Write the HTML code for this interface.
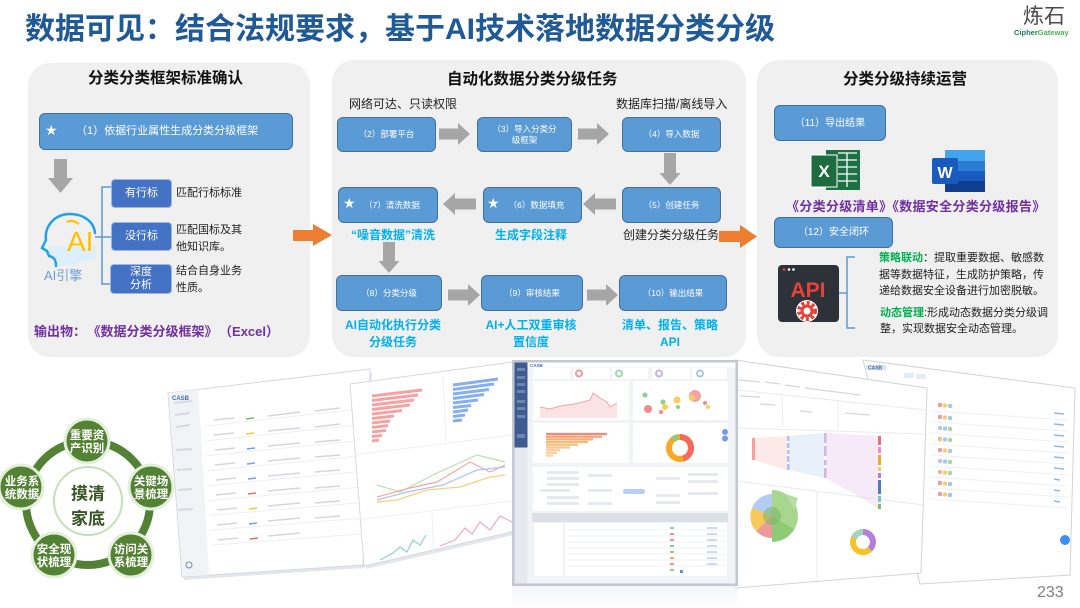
<!DOCTYPE html>
<html><head><meta charset="utf-8">
<style>
*{margin:0;padding:0;box-sizing:border-box}
html,body{width:1080px;height:608px;overflow:hidden;background:#fff}
body{position:relative;font-family:"Liberation Sans","Noto Sans CJK SC",sans-serif;color:#222}
.a{position:absolute;white-space:nowrap}
.pn{position:absolute;background:#F0F0F0;border-radius:22px}
.bx{position:absolute;background:#5B9BD5;border:1.5px solid #41719C;border-radius:6px;color:#fff;font-size:8.5px;display:flex;align-items:center;justify-content:center;text-align:center;line-height:11px;white-space:nowrap}
.db{position:absolute;background:#4472C4;border:1px solid #9DB5E0;border-radius:4px;color:#fff;font-size:11px;display:flex;align-items:center;justify-content:center;text-align:center;line-height:13px}
.st{position:absolute;color:#fff;font-size:14px;line-height:18px;font-family:"DejaVu Sans",sans-serif}
.cy{position:absolute;color:#00B0F0;font-weight:bold;font-size:12px;line-height:17px;text-align:center;white-space:nowrap}
.pt{position:absolute;font-weight:bold;font-size:15.5px;line-height:18px;color:#111;white-space:nowrap}
.tx{position:absolute;font-size:11px;line-height:17px;color:#222;white-space:nowrap}
svg{position:absolute;left:0;top:0}
</style></head><body>

<div class="a" style="left:25px;top:12px;font-size:30px;font-weight:bold;color:#1F5A96;line-height:36px">数据可见：结合法规要求，基于AI技术落地数据分类分级</div>

<div class="a" style="left:1023px;top:6px;font-size:21px;line-height:22px;color:#4a4a4a">炼石</div>
<div class="a" style="left:1014px;top:28px;font-size:7.5px;line-height:9px;font-weight:bold;color:#1B7A5A">Cipher<span style="color:#4CAF50">Gateway</span></div>

<div class="pn" style="left:28px;top:63px;width:282px;height:294px"></div>
<div class="pn" style="left:332px;top:60px;width:414px;height:297px"></div>
<div class="pn" style="left:757px;top:60px;width:301px;height:297px"></div>

<svg width="1080" height="608" viewBox="0 0 1080 608">
 <defs>
  <linearGradient id="fd" x1="0" y1="0" x2="0" y2="1"><stop offset="0" stop-color="#EEF0F3"/><stop offset="1" stop-color="#fff"/></linearGradient>
 </defs>
 <g fill="#A6A6A6">
  <polygon points="54,159 67,159 67,178 73,178 60.5,193 48,178 54,178"/>
  <polygon points="439,128.5 458,128.5 458,123 470,134 458,145 458,139.5 439,139.5"/>
  <polygon points="578,128.5 597,128.5 597,123 609,134 597,145 597,139.5 578,139.5"/>
  <polygon points="616,198.5 595,198.5 595,193 583,204 595,215 595,209.5 616,209.5"/>
  <polygon points="476,198.5 455,198.5 455,193 443,204 455,215 455,209.5 476,209.5"/>
  <polygon points="448,289.5 468,289.5 468,284 480,295 468,306 468,300.5 448,300.5"/>
  <polygon points="587,289.5 606,289.5 606,284 618,295 606,306 606,300.5 587,300.5"/>
  <polygon points="664,153 676,153 676,173 680.5,173 670,185 659.5,173 664,173"/>
  <polygon points="383,242 395,242 395,261 399.5,261 389,273 378.5,261 383,261"/>
 </g>
 <g fill="#ED7D31">
  <polygon points="293,230 313,230 313,224 332,235 313,246 313,241 293,241"/>
  <polygon points="719,231 740,231 740,225 757,236.5 740,248 740,242 719,242"/>
 </g>
 <g fill="none" stroke="#5B9BD5" stroke-width="1.5">
  <path d="M111,187 L102,187 L102,284 L110,284"/>
  <path d="M95,237 L111,237"/>
  <path d="M855,257 L847,257 L847,328 L855,328"/>
  <path d="M836,293 L847,293"/>
 </g>
 <path d="M48,247 L97,247 L95,258 L72,265 L56,266 L55,258 L49,256 Z" fill="#DDEFFB"/>
 <path d="M56,266 C56,260 54,257 49,256 L47,251 L42,248 L46,240 C44,226 55,214 70,214 C84,214 94,222 95,233" fill="none" stroke="#22A2E6" stroke-width="2.5" stroke-linecap="round"/>
 <path d="M67,222 Q72,219 79,224" fill="none" stroke="#FFC000" stroke-width="2.2"/>
 <text x="67" y="251" font-size="28" fill="#FFC000" font-family="Liberation Sans,sans-serif">AI</text>

 <rect x="826" y="150" width="34" height="40" fill="#1E7145"/>
 <g stroke="#fff" stroke-width="1.3"><line x1="838" y1="153" x2="857" y2="153"/><line x1="838" y1="160" x2="857" y2="160"/><line x1="838" y1="167" x2="857" y2="167"/><line x1="838" y1="174" x2="857" y2="174"/><line x1="838" y1="181" x2="857" y2="181"/><line x1="847" y1="153" x2="847" y2="187"/></g>
 <rect x="811" y="155" width="26" height="32" fill="#1D6B3F" stroke="#fff" stroke-width="1"/>
 <text x="824" y="177" font-size="17" font-weight="bold" fill="#fff" text-anchor="middle" font-family="Liberation Sans,sans-serif">X</text>
 <rect x="945" y="150" width="40" height="11" fill="#41A5EE"/>
 <rect x="945" y="161" width="40" height="10" fill="#2B7CD3"/>
 <rect x="945" y="171" width="40" height="10" fill="#185ABD"/>
 <rect x="945" y="181" width="40" height="11" fill="#103F91"/>
 <rect x="932" y="158" width="26" height="26" rx="2" fill="#185ABD"/>
 <text x="945" y="178" font-size="16" font-weight="bold" fill="#fff" text-anchor="middle" font-family="Liberation Sans,sans-serif">W</text>
 <rect x="778" y="265" width="61" height="57" rx="4" fill="#2D3239"/>
 <circle cx="784" cy="269.5" r="1.3" fill="#E8403A"/><circle cx="789" cy="269.5" r="1.3" fill="#fff"/><circle cx="793.5" cy="269.5" r="1.3" fill="#fff"/>
 <text x="808" y="297" font-size="21" font-weight="bold" fill="#E8403A" text-anchor="middle" font-family="Liberation Sans,sans-serif">API</text>
 <circle cx="807" cy="311" r="11" fill="#fff"/>
 <circle cx="807" cy="311" r="8" fill="none" stroke="#E8403A" stroke-width="4" stroke-dasharray="3 2.3"/>
 <circle cx="807" cy="311" r="6.5" fill="#E8403A"/>
 <circle cx="807" cy="311" r="3.5" fill="#fff"/>

 <circle cx="88" cy="503" r="62" fill="none" stroke="#548235" stroke-width="8"/>
 <circle cx="88" cy="501" r="34" fill="#fff" stroke="#C5E0B4" stroke-width="2"/>
 <g font-family="Liberation Sans,Noto Sans CJK SC,sans-serif" font-weight="bold" text-anchor="middle">
  <text x="88" y="499.5" font-size="17" fill="#375623">摸清</text>
  <text x="88" y="524.5" font-size="17" fill="#375623">家底</text>
 </g>
 <g fill="#E2EFD9"><circle cx="87" cy="441" r="23.5"/><circle cx="21" cy="487" r="23.5"/><circle cx="151" cy="487" r="23.5"/><circle cx="54" cy="555" r="23.5"/><circle cx="131" cy="555" r="23.5"/></g>
 <g fill="#548235"><circle cx="87" cy="441" r="20.5"/><circle cx="21" cy="487" r="20.5"/><circle cx="151" cy="487" r="20.5"/><circle cx="54" cy="555" r="20.5"/><circle cx="131" cy="555" r="20.5"/></g>
 <g font-family="Liberation Sans,Noto Sans CJK SC,sans-serif" font-weight="bold" font-size="11.5" fill="#fff" text-anchor="middle">
  <text x="87" y="439">重要资</text><text x="87" y="452">产识别</text>
  <text x="22" y="485">业务系</text><text x="22" y="498">统数据</text>
  <text x="151" y="485">关键场</text><text x="151" y="498">景梳理</text>
  <text x="54" y="553">安全现</text><text x="54" y="566">状梳理</text>
  <text x="131" y="553">访问关</text><text x="131" y="566">系梳理</text>
 </g>

 <polygon points="170,396 372,372 365,568 184,580" fill="#E3E6EA"/>
 <polygon points="168,393 370,369 363,565 182,577" fill="#fff" stroke="#D5D8DD"/>
 <polygon points="168.5,393 198.3,389.4 209.2,575.2 182.5,576.5" fill="#F1F3F7"/>
 <g stroke="#D6DBE3" stroke-width="2"><line x1="174" y1="403" x2="192" y2="401"/><line x1="175" y1="415" x2="190" y2="413"/><line x1="176" y1="427" x2="190" y2="425"/><line x1="176" y1="450" x2="192" y2="449"/><line x1="177" y1="470" x2="192" y2="469"/><line x1="178" y1="490" x2="192" y2="489"/><line x1="178" y1="510" x2="193" y2="509"/></g>
 <text x="172" y="400" font-size="6" fill="#3E6DB5" font-weight="bold" font-family="Liberation Sans,sans-serif">CASB</text>
 <g stroke="#EDEFF2" stroke-width="1">
  <line x1="204.4" y1="426.1" x2="362.7" y2="408.8"/><line x1="205.2" y1="441" x2="362.2" y2="424.5"/>
  <line x1="206.1" y1="455.9" x2="361.7" y2="440.2"/><line x1="206.9" y1="470.8" x2="361.2" y2="455.8"/>
  <line x1="207.8" y1="485.7" x2="360.7" y2="471.5"/><line x1="208.6" y1="500.6" x2="360.2" y2="487.1"/>
  <line x1="209.4" y1="515.4" x2="359.6" y2="502.8"/><line x1="210.3" y1="530.3" x2="359.1" y2="518.4"/>
  <line x1="211.1" y1="545.2" x2="358.6" y2="534.1"/>
 </g>
 <g stroke-width="1.6">
  <line x1="246" y1="419" x2="254" y2="418" stroke="#6CC070"/>
  <line x1="246" y1="434" x2="254" y2="433" stroke="#F2C744"/>
  <line x1="247" y1="449" x2="255" y2="448" stroke="#6FA3EA"/>
  <line x1="247" y1="464" x2="255" y2="463" stroke="#6FA3EA"/>
  <line x1="248" y1="479" x2="256" y2="478" stroke="#6FA3EA"/>
  <line x1="248" y1="494" x2="256" y2="493" stroke="#EB6A6A"/>
  <line x1="249" y1="509" x2="257" y2="508" stroke="#F2C744"/>
  <line x1="249" y1="524" x2="257" y2="523" stroke="#6FA3EA"/>
  <line x1="250" y1="539" x2="258" y2="538" stroke="#EB6A6A"/>
 </g>
 <g stroke="#D3D7DD" stroke-width="1.5">
  <line x1="214" y1="420" x2="234" y2="418"/><line x1="268" y1="416" x2="300" y2="412"/><line x1="315" y1="411" x2="340" y2="408"/>
  <line x1="214" y1="435" x2="234" y2="433"/><line x1="268" y1="431" x2="300" y2="428"/><line x1="315" y1="427" x2="340" y2="424"/>
  <line x1="215" y1="450" x2="235" y2="448"/><line x1="268" y1="446" x2="300" y2="443"/><line x1="315" y1="442" x2="340" y2="440"/>
  <line x1="215" y1="465" x2="235" y2="463"/><line x1="268" y1="461" x2="300" y2="458"/><line x1="315" y1="457" x2="340" y2="455"/>
  <line x1="216" y1="480" x2="236" y2="478"/><line x1="268" y1="476" x2="300" y2="473"/><line x1="315" y1="472" x2="340" y2="470"/>
  <line x1="216" y1="495" x2="236" y2="493"/><line x1="268" y1="491" x2="300" y2="488"/><line x1="315" y1="488" x2="340" y2="486"/>
  <line x1="217" y1="510" x2="237" y2="508"/><line x1="268" y1="506" x2="300" y2="503"/><line x1="315" y1="503" x2="340" y2="501"/>
  <line x1="217" y1="525" x2="237" y2="523"/><line x1="268" y1="521" x2="300" y2="518"/><line x1="315" y1="518" x2="340" y2="516"/>
  <line x1="218" y1="540" x2="238" y2="538"/><line x1="268" y1="536" x2="300" y2="533"/>
 </g>
 <circle cx="189" cy="565" r="3" fill="none" stroke="#6F8DB8"/>

 <polygon points="352,387 522,364 522,533 366,569" fill="#E3E6EA"/>
 <polygon points="350,384 520,361 520,530 364,566" fill="#fff" stroke="#D5D8DD"/>
 <g stroke="#EEF0F3" stroke-width="1"><line x1="443" y1="376" x2="446" y2="442"/><line x1="353" y1="455" x2="520" y2="434"/><line x1="356" y1="520" x2="520" y2="500"/><line x1="432" y1="512" x2="434" y2="560"/></g>
 <g stroke="#F4A3A3" stroke-width="3">
  <line x1="372" y1="396" x2="422" y2="390"/><line x1="372" y1="400.5" x2="418" y2="395"/><line x1="372" y1="405" x2="414" y2="400"/>
  <line x1="372" y1="409.5" x2="410" y2="405"/><line x1="372" y1="414" x2="402" y2="410.5"/><line x1="372" y1="418.5" x2="394" y2="416"/>
  <line x1="372" y1="423" x2="390" y2="421"/><line x1="372" y1="427.5" x2="388" y2="425.5"/><line x1="372" y1="432" x2="386" y2="430.5"/>
  <line x1="372" y1="436.5" x2="382" y2="435.5"/><line x1="372" y1="441" x2="379" y2="440"/>
 </g>
 <g stroke="#86AEF0" stroke-width="3">
  <line x1="453" y1="385" x2="498" y2="379"/><line x1="453" y1="389.5" x2="494" y2="384"/><line x1="453" y1="394" x2="489" y2="389.5"/>
  <line x1="453" y1="398.5" x2="484" y2="394.5"/><line x1="453" y1="403" x2="478" y2="400"/><line x1="453" y1="407.5" x2="471" y2="405.5"/>
  <line x1="453" y1="412" x2="468" y2="410"/><line x1="453" y1="416.5" x2="465" y2="415"/><line x1="453" y1="421" x2="462" y2="420"/>
 </g>
 <g fill="none" stroke-width="1.2">
  <polyline points="377,485 400,492 437,473 477,455 505,462" stroke="#B8E0A8"/>
  <polyline points="377,497 410,488 437,482 470,462 490,472 505,465" stroke="#F4A7A7"/>
  <polyline points="377,500 407,492 443,485 477,470 505,467" stroke="#A8C4F2"/>
  <polyline points="377,502 397,500 427,490 460,487 490,477 505,475" stroke="#F7CF7E"/>
  <polyline points="380,560 393,553 400,547 407,552 413,540 420,545 426,535" stroke="#8CCFE3"/>
  <polyline points="440,546 455,540 465,528 472,534 480,522 490,530 500,516 512,522" stroke="#F4A7BE"/>
 </g>

 <polygon points="863,360 1075,388 1070,575 920,584" fill="#fff" stroke="#D0D3D8"/>
 <rect x="866" y="365" width="20" height="5" fill="#DDE5F2"/>
 <text x="868" y="369.5" font-size="5" fill="#3E6DB5" font-weight="bold" font-family="Liberation Sans,sans-serif">CASB</text>
 <g fill="#E4EBF6"><rect x="904" y="373" width="10" height="5"/><rect x="916" y="374" width="10" height="5"/></g>
 <g stroke="#EEF0F3" stroke-width="1">
  <line x1="930" y1="411" x2="1068" y2="420"/><line x1="930" y1="422" x2="1068" y2="431"/><line x1="930" y1="433" x2="1068" y2="442"/>
  <line x1="930" y1="444" x2="1068" y2="453"/><line x1="930" y1="455" x2="1068" y2="464"/><line x1="930" y1="466" x2="1068" y2="475"/>
  <line x1="930" y1="477" x2="1068" y2="486"/><line x1="930" y1="488" x2="1068" y2="497"/><line x1="930" y1="499" x2="1068" y2="508"/>
 </g>
 <g>
  <rect x="938" y="403" width="4" height="4" rx="1" fill="#F29A9A"/><rect x="943" y="403.5" width="4" height="4" rx="1" fill="#F7C977"/><rect x="948" y="404" width="4" height="4" rx="1" fill="#9CC8F2"/>
  <rect x="938" y="415" width="4" height="4" rx="1" fill="#F29A9A"/><rect x="943" y="415.5" width="4" height="4" rx="1" fill="#F7C977"/><rect x="948" y="416" width="4" height="4" rx="1" fill="#9CC8F2"/>
  <rect x="938" y="426" width="4" height="4" rx="1" fill="#B9C3F2"/><rect x="943" y="426.5" width="4" height="4" rx="1" fill="#9CC8F2"/><rect x="948" y="427" width="4" height="4" rx="1" fill="#A6DA9A"/>
  <rect x="938" y="437" width="4" height="4" rx="1" fill="#F7B58A"/><rect x="943" y="437.5" width="4" height="4" rx="1" fill="#9CC8F2"/><rect x="948" y="438" width="4" height="4" rx="1" fill="#A6DA9A"/>
  <rect x="938" y="448" width="4" height="4" rx="1" fill="#F29A9A"/><rect x="943" y="448.5" width="4" height="4" rx="1" fill="#F7C977"/><rect x="948" y="449" width="4" height="4" rx="1" fill="#9CC8F2"/>
  <rect x="938" y="459" width="4" height="4" rx="1" fill="#B9C3F2"/><rect x="943" y="459.5" width="4" height="4" rx="1" fill="#9CC8F2"/><rect x="948" y="460" width="4" height="4" rx="1" fill="#A6DA9A"/>
  <rect x="938" y="470" width="4" height="4" rx="1" fill="#F7B58A"/><rect x="943" y="470.5" width="4" height="4" rx="1" fill="#F7C977"/><rect x="948" y="471" width="4" height="4" rx="1" fill="#A6DA9A"/>
  <rect x="938" y="481" width="4" height="4" rx="1" fill="#F29A9A"/><rect x="943" y="481.5" width="4" height="4" rx="1" fill="#F7C977"/><rect x="948" y="482" width="4" height="4" rx="1" fill="#9CC8F2"/>
  <rect x="938" y="492" width="4" height="4" rx="1" fill="#F29A9A"/><rect x="943" y="492.5" width="4" height="4" rx="1" fill="#F7C977"/><rect x="948" y="493" width="4" height="4" rx="1" fill="#9CC8F2"/>
 </g>
 <g stroke="#8DB8F0" stroke-width="1.5">
  <line x1="1054" y1="413" x2="1064" y2="414"/><line x1="1054" y1="424" x2="1064" y2="425"/><line x1="1054" y1="435" x2="1064" y2="436"/>
  <line x1="1054" y1="446" x2="1064" y2="447"/><line x1="1054" y1="457" x2="1064" y2="458"/><line x1="1054" y1="468" x2="1064" y2="469"/>
  <line x1="1054" y1="479" x2="1060" y2="480"/><line x1="1054" y1="490" x2="1060" y2="491"/><line x1="1054" y1="501" x2="1060" y2="502"/>
 </g>
 <circle cx="1065" cy="540" r="5" fill="#3D8EF0"/>

 <polygon points="735,360 927,388 921,573 735,588" fill="#fff" stroke="#D0D3D8"/>
 <g stroke="#E8EAEE" stroke-width="1"><line x1="737" y1="390" x2="925" y2="410"/><line x1="737" y1="428" x2="925" y2="434"/><line x1="737" y1="481" x2="924" y2="505"/><line x1="817" y1="492" x2="817" y2="578"/><line x1="782" y1="395" x2="783" y2="427"/><line x1="838" y1="401" x2="838" y2="429"/></g>
 <g stroke="#D3D7DD" stroke-width="1.3"><line x1="738" y1="380" x2="760" y2="382"/><line x1="765" y1="382" x2="780" y2="384"/><line x1="785" y1="385" x2="800" y2="387"/><line x1="805" y1="388" x2="860" y2="395"/><line x1="740" y1="396" x2="760" y2="397"/><line x1="760" y1="404" x2="775" y2="405"/><line x1="800" y1="411" x2="812" y2="412"/><line x1="845" y1="413" x2="870" y2="415"/></g>
 <g opacity="0.5">
  <polygon points="755,438 787,436 787,470 755,460" fill="#FBD4D2"/>
  <polygon points="789,436 824,433 824,478 789,470" fill="#D3E2F7"/>
  <polygon points="826,433 878,436 878,508 826,478" fill="#EED7F2"/>
 </g>
 <rect x="752" y="438" width="3" height="22" fill="#F4A09A"/>
 <g fill="#A9C4EE"><rect x="787" y="436" width="2.5" height="5"/><rect x="787" y="443" width="2.5" height="5"/><rect x="787" y="450" width="2.5" height="4"/><rect x="787" y="456" width="2.5" height="6"/><rect x="787" y="464" width="2.5" height="6"/></g>
 <g fill="#D7B3E8"><rect x="824" y="433" width="2.5" height="10"/><rect x="824" y="446" width="2.5" height="10"/><rect x="824" y="460" width="2.5" height="5"/><rect x="824" y="468" width="2.5" height="10"/></g>
 <rect x="878" y="436" width="3" height="9" fill="#F26F6F"/><rect x="878" y="447" width="3" height="6" fill="#F58AC0"/>
 <rect x="878" y="455" width="3" height="10" fill="#F5A623"/><rect x="878" y="467" width="3" height="4" fill="#F7D046"/>
 <rect x="878" y="473" width="3" height="5" fill="#B07FE0"/><rect x="878" y="480" width="3" height="14" fill="#4A7BD0"/>
 <rect x="878" y="496" width="3" height="6" fill="#7FC6B8"/><rect x="878" y="504" width="3" height="5" fill="#7BC065"/>
 <g transform="translate(772,516)">
  <path d="M0,0 L0,-26 A26,26 0 0 1 22.5,13 Z" fill="#A8D68E"/>
  <path d="M0,0 L22.5,13 A26,26 0 0 1 0,26 Z" fill="#8FCB77"/>
  <path d="M0,0 L0,22 A22,22 0 0 1 -16,15 Z" fill="#EC9A9A"/>
  <path d="M0,0 L-16,15 A22,22 0 0 1 -20,-8 Z" fill="#F7C85A"/>
  <path d="M0,0 L-20,-8 A22,22 0 0 1 0,-22 Z" fill="#B3CCF2"/>
  <circle r="9" fill="#7DB865" opacity="0.6"/>
  <path d="M14,-22 L26,-18 L22,-6 Z" fill="#B9DEA5"/>
 </g>
 <g transform="translate(863,542)" fill="none" stroke-width="6">
  <circle r="10" stroke="#F5C325"/>
  <path d="M0,-10 A10,10 0 0 1 7,7" stroke="#B07FE0"/>
  <path d="M-9,-4 A10,10 0 0 1 0,-10" stroke="#9FD4C8"/>
 </g>

 <rect x="512" y="360" width="226" height="226" fill="#C3C8D0"/>
 <rect x="514.5" y="362.5" width="221" height="221" fill="#F1F3F6"/>
 <rect x="514.5" y="447.5" width="13" height="136" fill="#E6E9EE"/>
 <rect x="514.5" y="362.5" width="13" height="85" fill="#3E5C8F"/>
 <g fill="#6C86B2"><rect x="517" y="368" width="8" height="3"/><rect x="517" y="376" width="8" height="3"/><rect x="517" y="383" width="8" height="3"/><rect x="517" y="390" width="8" height="3"/><rect x="517" y="400" width="8" height="3"/><rect x="517" y="407" width="8" height="3"/><rect x="517" y="415" width="8" height="3"/><rect x="517" y="434" width="8" height="4"/></g>
 <rect x="527.5" y="362.5" width="208" height="5" fill="#fff"/>
 <text x="530" y="367" font-size="4.5" fill="#3E6DB5" font-weight="bold" font-family="Liberation Sans,sans-serif">CASB</text>
 <g fill="#fff">
  <rect x="533" y="368" width="37" height="11"/><rect x="573" y="368" width="37" height="11"/><rect x="612" y="368" width="36" height="11"/><rect x="652" y="368" width="38" height="11"/><rect x="692" y="368" width="35" height="11"/>
  <rect x="533" y="381" width="96" height="39"/><rect x="633" y="381" width="95" height="39"/>
  <rect x="533" y="423" width="96" height="40"/><rect x="633" y="423" width="95" height="40"/>
  <rect x="533" y="467" width="195" height="44"/>
 </g>
 <circle cx="579" cy="373.5" r="3" fill="none" stroke="#F29A9A" stroke-width="2"/>
 <circle cx="619" cy="373.5" r="3" fill="none" stroke="#9FD8AE" stroke-width="2"/>
 <circle cx="659" cy="373.5" r="3" fill="none" stroke="#C2B2EE" stroke-width="2"/>
 <circle cx="700" cy="373.5" r="3" fill="none" stroke="#A8C8F0" stroke-width="2"/>
 <polygon points="540,407 550,409 560,406 575,404 590,400 593,393 600,398 607,402 610,407 617,403 617,418 540,418" fill="#FCE3E3"/>
 <polyline points="540,407 550,409 560,406 575,404 590,400 593,393 600,398 607,402 610,407 617,403" fill="none" stroke="#F4A3A3" stroke-width="1"/>
 <g>
  <circle cx="695" cy="396" r="6" fill="#F4A3A3"/><circle cx="648" cy="409" r="4" fill="#F08C8C"/><circle cx="677" cy="400" r="3.5" fill="#F7CE5C"/>
  <circle cx="692" cy="398" r="3" fill="#F7CE5C"/><circle cx="645" cy="395" r="2.5" fill="#8DD08A"/><circle cx="663" cy="402" r="2.5" fill="#8DD08A"/>
  <circle cx="665" cy="407" r="3" fill="#F7CE5C"/><circle cx="678" cy="407" r="2" fill="#8DD08A"/><circle cx="705" cy="403" r="2" fill="#F08C8C"/>
  <circle cx="708" cy="407" r="2" fill="#F7CE5C"/><circle cx="661" cy="412" r="2" fill="#F08C8C"/>
 </g>
 <g stroke-width="2.2">
  <line x1="546" y1="434" x2="607" y2="434" stroke="#F28A7E"/><line x1="546" y1="436.7" x2="602" y2="436.7" stroke="#F7A06F"/>
  <line x1="546" y1="439.4" x2="593" y2="439.4" stroke="#F8B070"/><line x1="546" y1="442.1" x2="588" y2="442.1" stroke="#F9B97A"/>
  <line x1="546" y1="444.8" x2="578" y2="444.8" stroke="#F9C083"/><line x1="546" y1="447.5" x2="570" y2="447.5" stroke="#FAC68C"/>
  <line x1="546" y1="450.2" x2="560" y2="450.2" stroke="#FBCC95"/><line x1="546" y1="452.9" x2="557" y2="452.9" stroke="#FBD09C"/>
  <line x1="546" y1="455.6" x2="553" y2="455.6" stroke="#FBD3A0"/>
 </g>
 <g transform="translate(680,448)" fill="none" stroke-width="6">
  <circle r="11" stroke="#F9A825"/>
  <path d="M0,-11 A11,11 0 0 1 3,10.6" stroke="#F26B5B"/>
  <path d="M-7,-8.5 A11,11 0 0 1 -2,-10.8" stroke="#8CCB7A"/>
 </g>
 <circle cx="725" cy="432" r="3" fill="#6E9BEA"/><circle cx="725" cy="438.5" r="3" fill="#6E9BEA"/>
 <g fill="#E6E9EE">
  <rect x="547" y="471" width="32" height="3"/><rect x="547" y="477" width="32" height="3"/><rect x="547" y="483" width="32" height="3"/>
  <rect x="540" y="489" width="30" height="3"/><rect x="547" y="496" width="32" height="3"/><rect x="547" y="502" width="32" height="3"/>
  <rect x="588" y="474" width="24" height="3"/><rect x="588" y="489" width="24" height="3"/><rect x="588" y="502" width="24" height="3"/>
  <rect x="656" y="477" width="24" height="3"/><rect x="656" y="494" width="24" height="3"/><rect x="656" y="501" width="24" height="3"/>
  <rect x="688" y="473" width="30" height="3"/><rect x="688" y="480" width="30" height="3"/><rect x="688" y="492" width="30" height="3"/>
 </g>
 <rect x="623" y="489" width="22" height="5" rx="2.5" fill="#B8CDF5"/>
 <rect x="532" y="513" width="196" height="9" fill="#DCE1E8"/>
 <rect x="534" y="523" width="29" height="53" fill="#fff"/>
 <rect x="565" y="523" width="162" height="53" fill="#fff"/>
 <g stroke="#EEF0F3"><line x1="567" y1="530" x2="725" y2="530"/><line x1="567" y1="536" x2="725" y2="536"/><line x1="567" y1="542" x2="725" y2="542"/><line x1="567" y1="548" x2="725" y2="548"/><line x1="567" y1="554" x2="725" y2="554"/><line x1="567" y1="560" x2="725" y2="560"/><line x1="567" y1="566" x2="725" y2="566"/></g>
 <g>
  <rect x="670" y="527" width="4" height="2" fill="#8DD08A"/><rect x="670" y="533" width="4" height="2" fill="#F08C8C"/><rect x="670" y="539" width="4" height="2" fill="#F08C8C"/>
  <rect x="670" y="545" width="4" height="2" fill="#8DD08A"/><rect x="670" y="551" width="4" height="2" fill="#8DD08A"/><rect x="670" y="557" width="4" height="2" fill="#F7B048"/>
  <rect x="670" y="563" width="4" height="2" fill="#F08C8C"/><rect x="670" y="569" width="4" height="2" fill="#8DD08A"/>
 </g>
 <g stroke="#A9C4EE" stroke-width="1.2"><line x1="707" y1="528" x2="717" y2="528"/><line x1="707" y1="534" x2="717" y2="534"/><line x1="707" y1="540" x2="717" y2="540"/><line x1="707" y1="546" x2="717" y2="546"/><line x1="707" y1="552" x2="717" y2="552"/><line x1="707" y1="558" x2="717" y2="558"/><line x1="707" y1="564" x2="717" y2="564"/></g>
 <rect x="680" y="570" width="3" height="3" fill="#5B8FE8"/>
 <rect x="512" y="586" width="226" height="22" fill="url(#fd)" opacity="0.6"/>
</svg>

<div class="pt" style="left:88px;top:70px">分类分类框架标准确认</div>
<div class="bx" style="left:39px;top:113px;width:254px;height:37px"></div>
<div class="st" style="left:45px;top:122px">★</div>
<div class="a" style="left:76px;top:123px;font-size:11px;line-height:16px;color:#fff">（1）依据行业属性生成分类分级框架</div>
<div class="a" style="left:44px;top:267px;font-size:13px;line-height:18px;color:#6A9FD4">AI引擎</div>
<div class="db" style="left:111px;top:179px;width:61px;height:29px">有行标</div>
<div class="db" style="left:111px;top:222px;width:61px;height:29px">没行标</div>
<div class="db" style="left:110px;top:264px;width:62px;height:30px">深度<br>分析</div>
<div class="tx" style="left:176px;top:185px">匹配行标标准</div>
<div class="tx" style="left:176px;top:222px;line-height:17px">匹配国标及其<br>他知识库。</div>
<div class="tx" style="left:176px;top:263px;line-height:17px">结合自身业务<br>性质。</div>
<div class="a" style="left:34px;top:323px;font-size:13px;line-height:18px;font-weight:bold;color:#7030A0">输出物：<span style="margin-left:8px">《数据分类分级框架》</span><span style="margin-left:8px">（Excel）</span></div>

<div class="pt" style="left:447px;top:71px">自动化数据分类分级任务</div>
<div class="a" style="left:349px;top:95px;font-size:12px;line-height:18px;color:#222">网络可达、只读权限</div>
<div class="a" style="left:616px;top:95px;font-size:12px;line-height:18px;color:#222">数据库扫描/离线导入</div>
<div class="bx" style="left:337px;top:117px;width:99px;height:35px">（2）部署平台</div>
<div class="bx" style="left:477px;top:117px;width:95px;height:35px">（3）导入分类分<br>级框架</div>
<div class="bx" style="left:622px;top:117px;width:99px;height:35px">（4）导入数据</div>
<div class="bx" style="left:338px;top:187px;width:100px;height:36px;padding-left:8px">（7）清洗数据</div>
<div class="bx" style="left:483px;top:187px;width:99px;height:36px;padding-left:8px">（6）数据填充</div>
<div class="bx" style="left:622px;top:187px;width:99px;height:36px">（5）创建任务</div>
<div class="st" style="left:343px;top:195px">★</div>
<div class="st" style="left:487px;top:195px">★</div>
<div class="cy" style="left:343px;top:227px;width:100px">“噪音数据”清洗</div>
<div class="cy" style="left:481px;top:227px;width:100px">生成字段注释</div>
<div class="a" style="left:623px;top:227px;font-size:12px;line-height:17px;color:#222">创建分类分级任务</div>
<div class="bx" style="left:336px;top:275px;width:106px;height:36px">（8）分类分级</div>
<div class="bx" style="left:481px;top:275px;width:102px;height:36px">（9）审核结果</div>
<div class="bx" style="left:619px;top:275px;width:108px;height:36px">（10）输出结果</div>
<div class="cy" style="left:333px;top:317px;width:120px">AI自动化执行分类<br>分级任务</div>
<div class="cy" style="left:471px;top:317px;width:120px">AI+人工双重审核<br>置信度</div>
<div class="cy" style="left:610px;top:317px;width:120px">清单、报告、策略<br>API</div>

<div class="pt" style="left:843px;top:71px">分类分级持续运营</div>
<div class="bx" style="left:774px;top:105px;width:112px;height:36px;font-size:10px">（11）导出结果</div>
<div class="a" style="left:786px;top:198px;font-size:13px;line-height:18px;font-weight:bold;color:#7030A0;letter-spacing:0.3px">《分类分级清单》《数据安全分类分级报告》</div>
<div class="bx" style="left:774px;top:217px;width:119px;height:31px;font-size:10px">（12）安全闭环</div>
<div class="tx" style="left:879px;top:250px;line-height:16.5px"><b style="color:#00B050">策略联动</b>：提取重要数据、敏感数<br>据等数据特征，生成防护策略，传<br>递给数据安全设备进行加密脱敏。</div>
<div class="tx" style="left:880px;top:305px;line-height:16px"><b style="color:#00B050">动态管理</b>:形成动态数据分类分级调<br>整，实现数据安全动态管理。</div>

<div class="a" style="left:1037px;top:584px;font-size:16px;line-height:18px;color:#808080">233</div>
</body></html>
